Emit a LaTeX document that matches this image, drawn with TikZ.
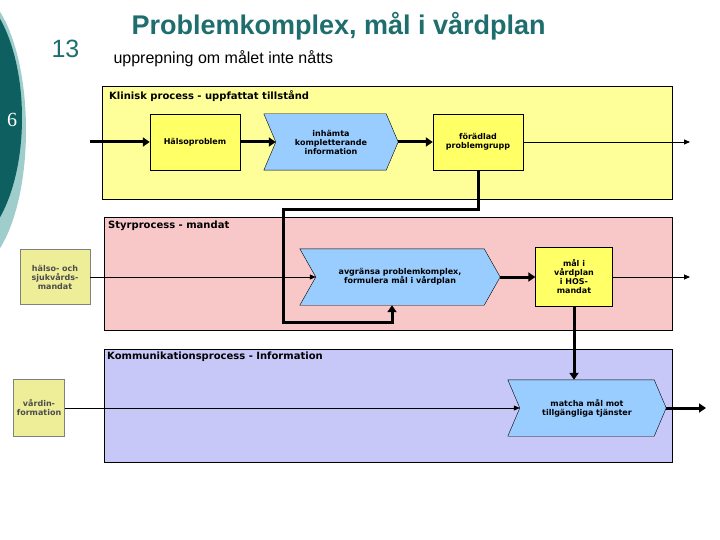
\documentclass[tikz,border=0pt]{standalone}
\usepackage{fontspec}
\setmainfont{Liberation Sans}
\newfontfamily\serifnum{Liberation Serif}
\newfontfamily\dfont{DejaVu Sans}
\usetikzlibrary{arrows.meta}
\pgfdeclarelayer{panel}\pgfdeclarelayer{chev}
\pgfsetlayers{panel,chev,main}
\definecolor{teal1}{HTML}{0E5F5F}
\definecolor{teal2}{HTML}{9FCDCB}
\definecolor{ttl}{HTML}{1F6E6E}
\definecolor{pyel}{HTML}{FFFF99}
\definecolor{byel}{HTML}{FFFF66}
\definecolor{cblue}{HTML}{99CCFF}
\definecolor{ppink}{HTML}{F8C8C8}
\definecolor{pblue}{HTML}{C8C8F8}
\definecolor{khaki}{HTML}{EEEE99}
\tikzset{
 panelbox/.style={draw,thin,anchor=north west,inner sep=0},
 plabel/.style={anchor=north west,font=\dfont\bfseries\fontsize{10}{11}\selectfont,inner sep=0},
 ybox/.style={draw,fill=byel,font=\dfont\bfseries\fontsize{8}{9}\selectfont,align=center,inner sep=0},
 kbox/.style={draw=gray,fill=khaki,text=black!70,font=\dfont\bfseries\fontsize{8}{9}\selectfont,align=center,inner sep=0},
 chevtext/.style={font=\dfont\bfseries\fontsize{8}{9}\selectfont,align=center,inner sep=0},
 chevfill/.style={draw,thin,fill=cblue},
 thick arr/.style={line width=3pt,-{Triangle[length=7pt,width=9pt]}},
 thin arr/.style={line width=0.8pt,-{Triangle[length=6pt,width=5pt]}},
 thickline/.style={line width=3pt},
}
\newcommand{\mkchev}[2]{%
 \begin{pgfonlayer}{chev}
 \draw[chevfill] (#1.north west) -- ([xshift=-#2]#1.north east) -- (#1.east) -- ([xshift=-#2]#1.south east) -- (#1.south west) -- ([xshift=#2]#1.west) -- cycle;
 \end{pgfonlayer}}
\begin{document}
\begin{tikzpicture}[x=1pt,y=-1pt]
\begin{pgfonlayer}{panel}
\fill[white] (0,0) rectangle (720,540);
\end{pgfonlayer}
\useasboundingbox (0,0) rectangle (720,540);
% left decoration
\fill[teal2] (-30,130) ellipse [x radius=56, y radius=140];
\fill[teal1] (-40,118) ellipse [x radius=62, y radius=130];
\node[text=white,font=\serifnum\fontsize{20}{20}\selectfont] (six) at (12,120) {6};
% titles
\node[anchor=base west,font=\fontsize{25}{25}\selectfont,text=ttl] (num) at (48,58) {13};
\node[anchor=base west,font=\bfseries\fontsize{27}{27}\selectfont,text=ttl] (title) at (128,35) {Problemkomplex, mål i vårdplan};
\node[anchor=base west,font=\fontsize{16}{16}\selectfont] (sub) at (110,64) {upprepning om målet inte nåtts};
% panels
\begin{pgfonlayer}{panel}
\node[panelbox,fill=pyel,minimum width=570,minimum height=113] (p1) at (102,86) {};
\node[panelbox,fill=ppink,minimum width=568,minimum height=113] (p2) at (104,217) {};
\node[panelbox,fill=pblue,minimum width=568,minimum height=113] (p3) at (104,349) {};
\end{pgfonlayer}
\node[plabel] (l1) at (109,90) {Klinisk process - uppfattat tillstånd};
\node[plabel] (l2) at (108,221) {Styrprocess - mandat};
\node[plabel] (l3) at (107,352) {Kommunikationsprocess - Information};
% row 1
\node[ybox,minimum width=90,minimum height=56] (hp) at (195,142) {Hälsoproblem};
\node[chevtext,minimum width=134,minimum height=56] (inh) at (331,142) {inhämta\\kompletterande\\information};
\mkchev{inh}{12pt}
\node[ybox,minimum width=90,minimum height=56] (fp) at (478,142) {förädlad\\problemgrupp};
\coordinate (in1) at (90,142);
\coordinate (out1) at (690,142);
\draw[thick arr] (in1) -- (hp.west);
\draw[thick arr] (hp.east) -- ([xshift=12pt]inh.west);
\draw[thick arr] (inh.east) -- (fp.west);
\draw[thin arr] (fp.east) -- (out1);
% row 2
\node[kbox,minimum width=70,minimum height=55] (hs) at (55,277) {hälso- och\\sjukvårds-\\mandat};
\node[chevtext,minimum width=200,minimum height=56] (avg) at (400,277) {avgränsa problemkomplex,\\formulera mål i vårdplan};
\mkchev{avg}{16pt}
\node[ybox,minimum width=77,minimum height=59] (mal) at (574,277) {mål i\\vårdplan\\i HOS-\\mandat};
\coordinate (out2) at (690,277);
\draw[thin arr] (hs.east) -- ([xshift=16pt]avg.west);
\draw[thick arr] (avg.east) -- (mal.west);
\draw[thin arr] (mal.east) -- (out2);
\draw[thickline] (fp.south) -- (478,210) -- (283,210) -- (283,322) -- (392,322);
\draw[thick arr] (392,323.5) -- (avg.south -| 392,0);
% row 3
\node[kbox,minimum width=51,minimum height=57] (vi) at (39,408) {vårdin-\\formation};
\node[chevtext,minimum width=158,minimum height=56] (mat) at (587,408) {matcha mål mot\\tillgängliga tjänster};
\mkchev{mat}{12pt}
\coordinate (out3) at (706,408);
\draw[thin arr] (vi.east) -- ([xshift=12pt]mat.west);
\draw[thick arr] (mal.south) -- (mal.south |- mat.north);
\draw[thick arr] (mat.east) -- (out3);
\end{tikzpicture}
\end{document}
